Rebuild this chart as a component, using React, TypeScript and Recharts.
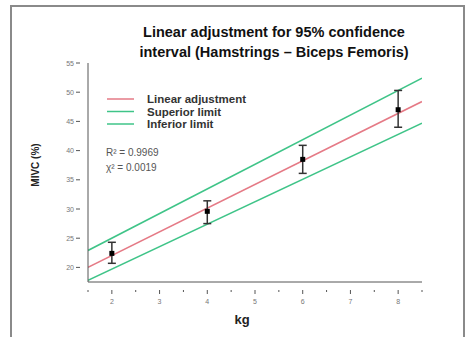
import React from 'react';
import { ComposedChart, Line, Scatter, XAxis, YAxis, ErrorBar, Customized } from 'recharts';

const kgValues = [2, 4, 6, 8];
const mivcMeans = [22.4, 29.6, 38.5, 47.0];
const errUp = [1.9, 1.8, 2.4, 3.3];
const errDown = [1.7, 2.1, 2.4, 3.0];

const fitX = [1.5, 8.5];
const linearFit = [20.0, 48.4];
const superiorLimit = [22.9, 52.4];
const inferiorLimit = [17.8, 44.7];

const xTicks = [1.5, 2, 2.5, 3, 3.5, 4, 4.5, 5, 5.5, 6, 6.5, 7, 7.5, 8, 8.5];
const yTicks = [20, 25, 30, 35, 40, 45, 50, 55];

const titleLines = ['Linear adjustment for 95% confidence', 'interval (Hamstrings \u2013 Biceps Femoris)'];
const legendItems = [
  { name: 'Linear adjustment', color: '#e57a86' },
  { name: 'Superior limit', color: '#3fc488' },
  { name: 'Inferior limit', color: '#3fc488' },
];
const statsLines = ['R\u00b2 = 0.9969', '\u03c7\u00b2 = 0.0019'];

const points = kgValues.map((x, i) => ({ x, y: mivcMeans[i], err: [errDown[i], errUp[i]] }));
const mk = (ys: number[]) => fitX.map((x, i) => ({ x, y: ys[i] }));

const RED = '#e57a86';
const GREEN = '#3fc488';
const FONT = 'Arial, "Liberation Sans", sans-serif';

const XTick = (props: any) => {
  const { x, y, payload } = props;
  const major = Number.isInteger(payload.value);
  return (
    <g>
      <line x1={x} x2={x} y1={y} y2={y + (major ? 4 : 2)} stroke="#555" strokeWidth={1} />
      {major && (
        <text x={x} y={y + 14} textAnchor="middle" fontSize={7} fill="#777" fontFamily={FONT}>
          {payload.value}
        </text>
      )}
    </g>
  );
};

const YTick = (props: any) => {
  const { x, y, payload } = props;
  return (
    <g>
      <line x1={x} x2={x - 4} y1={y} y2={y} stroke="#555" strokeWidth={1} />
      <text x={x - 6} y={y + 2.5} textAnchor="end" fontSize={7} fill="#777" fontFamily={FONT}>
        {payload.value}
      </text>
    </g>
  );
};

const Decor = () => (
  <g fontFamily={FONT}>
    {titleLines.map((t, i) => (
      <text key={t} x={274} y={37 + i * 20} textAnchor="middle" fontSize={14.5} fontWeight="bold" fill="#111">
        {t}
      </text>
    ))}
    {legendItems.map((it, i) => (
      <g key={it.name}>
        <line x1={107} x2={134} y1={99 + i * 12.5} y2={99 + i * 12.5} stroke={it.color} strokeWidth={1.5} />
        <text x={147} y={103 + i * 12.5} fontSize={11.5} fontWeight="bold" fill="#333">
          {it.name}
        </text>
      </g>
    ))}
    {statsLines.map((t, i) => (
      <text key={t} x={106} y={156 + i * 15} fontSize={10} fill="#555">
        {t}
      </text>
    ))}
    <text x={39} y={165} textAnchor="middle" fontSize={10} fontWeight="bold" fill="#222" transform="rotate(-90 39 165)">
      MIVC (%)
    </text>
    <text x={242} y={324} textAnchor="middle" fontSize={13} fontWeight="bold" fill="#222">
      kg
    </text>
  </g>
);

export default function App() {
  return (
    <div style={{ position: 'absolute', left: 0, top: 0, width: 473, height: 337, background: '#fff', overflow: 'hidden' }}>
      <div style={{ position: 'absolute', left: 10, top: 5, width: 455, height: 340, border: '2px solid #8a8a8a', boxSizing: 'border-box' }} />
      <ComposedChart
        width={473}
        height={337}
        margin={{ left: 48, right: 51, top: 63, bottom: 25 }}
        style={{ position: 'absolute', left: 0, top: 0 }}
      >
        <XAxis
          type="number"
          dataKey="x"
          domain={[1.5, 8.5]}
          ticks={xTicks}
          interval={0}
          tick={<XTick />}
          tickLine={false}
          axisLine={{ stroke: '#555', strokeWidth: 1 }}
          height={30}
          allowDataOverflow
        />
        <YAxis
          type="number"
          dataKey="y"
          domain={[17.5, 55]}
          ticks={yTicks}
          interval={0}
          tick={<YTick />}
          tickLine={false}
          axisLine={{ stroke: '#555', strokeWidth: 1 }}
          width={40}
          allowDataOverflow
        />
        <Line data={mk(superiorLimit)} dataKey="y" stroke={GREEN} strokeWidth={1.5} dot={false} isAnimationActive={false} />
        <Line data={mk(inferiorLimit)} dataKey="y" stroke={GREEN} strokeWidth={1.5} dot={false} isAnimationActive={false} />
        <Line data={mk(linearFit)} dataKey="y" stroke={RED} strokeWidth={1.5} dot={false} isAnimationActive={false} />
        <Scatter data={points} dataKey="y" fill="#000" isAnimationActive={false} shape={(p: any) => <rect x={p.cx - 2.5} y={p.cy - 2.5} width={5} height={5} fill="#000" />}>
          <ErrorBar dataKey="err" direction="y" width={4} stroke="#333" strokeWidth={1.5} isAnimationActive={false} />
        </Scatter>
        <Customized component={Decor} />
      </ComposedChart>
    </div>
  );
}
